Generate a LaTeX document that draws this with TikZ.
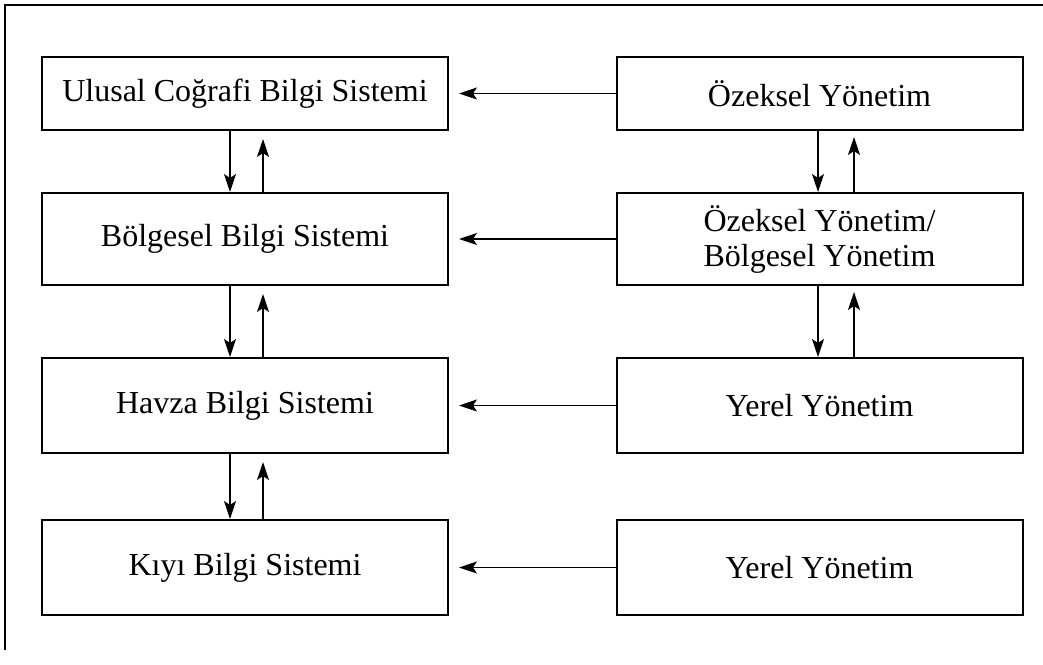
\documentclass[tikz,border=0pt]{standalone}
\usepackage{fontspec}
\setmainfont{Liberation Serif}
\usetikzlibrary{arrows.meta}
\begin{document}
\begin{tikzpicture}[x=0.5pt,y=-0.5pt,
  box/.style={draw,line width=1pt,minimum width=203pt,inner sep=0pt,
    font=\fontsize{16}{17.5}\selectfont,align=center},
  arr/.style={line width=0.8pt,-{Stealth[length=9pt,width=6pt,inset=2pt]}},
  frame/.style={line width=0.8pt}]
\useasboundingbox (0,0) rectangle (1043,664);
\draw[frame] (1043,5) -- (5,5) -- (5,650);
% left column
\node[box,minimum height=36.5pt] (l1) at (245,93.5) {Ulusal Coğrafi Bilgi Sistemi};
\node[box,minimum height=46pt] (l2) at (245,239) {Bölgesel Bilgi Sistemi};
\node[box,minimum height=47.5pt] (l3) at (245,405.5) {Havza Bilgi Sistemi};
\node[box,minimum height=47.5pt] (l4) at (245,567.5) {Kıyı Bilgi Sistemi};
% right column
\node[box,minimum height=36.5pt] (r1) at (819.5,93.5) {Özeksel Yönetim};
\node[box,minimum height=46pt] (r2) at (819.5,239) {Özeksel Yönetim/\\Bölgesel Yönetim};
\node[box,minimum height=47.5pt] (r3) at (819.5,405.5) {Yerel Yönetim};
\node[box,minimum height=47.5pt] (r4) at (819.5,567.5) {Yerel Yönetim};
% horizontal arrows
\foreach \i in {1,2,3,4}{
  \draw[arr,shorten >=5pt] (r\i.west) -- (l\i.east);
}
% left vertical arrows
\foreach \a/\b in {1/2,2/3,3/4}{
  \draw[arr] ([xshift=-7.5pt]l\a.south) -- ([xshift=-7.5pt]l\b.north);
  \draw[arr,shorten >=4pt] ([xshift=9pt]l\b.north) -- ([xshift=9pt]l\a.south);
}
% right vertical arrows
\foreach \a/\b in {1/2,2/3}{
  \draw[arr] ([xshift=-0.75pt]r\a.south) -- ([xshift=-0.75pt]r\b.north);
  \draw[arr,shorten >=3pt] ([xshift=17.25pt]r\b.north) -- ([xshift=17.25pt]r\a.south);
}
\end{tikzpicture}
\end{document}
